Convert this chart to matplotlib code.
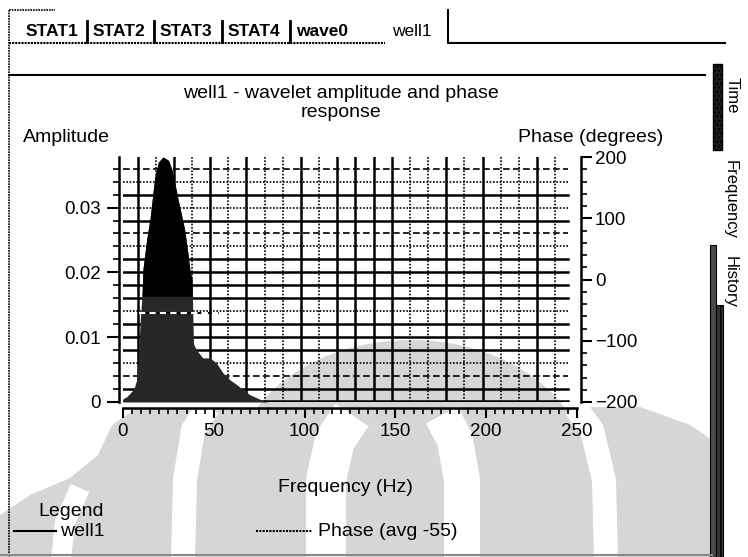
import numpy as np
import matplotlib.pyplot as plt
from matplotlib.patches import Ellipse, Rectangle, Polygon
from matplotlib.ticker import MultipleLocator

plt.rcParams['font.family'] = ['Liberation Sans', 'DejaVu Sans']

# amplitude spectrum of the extracted wavelet (Hz, amplitude)
freq = [0, 2, 4, 6, 7.5, 8.5, 9.5, 10.5, 11, 13, 15, 16, 17.5, 19.5, 22, 25, 27,
        28.5, 30.5, 32.5, 34, 35.5, 37, 38, 38.8, 40.5, 44, 48, 51.5, 55, 59,
        63, 66, 70, 74, 78, 80, 250]
amplitude = [0.0005, 0.0008, 0.0014, 0.0020, 0.0034, 0.0070, 0.0127, 0.0165,
             0.0205, 0.0250, 0.0285, 0.0310, 0.0347, 0.0370, 0.0378, 0.0373,
             0.0358, 0.0338, 0.0310, 0.0285, 0.0265, 0.0234, 0.0200, 0.0190,
             0.0090, 0.0080, 0.0068, 0.0068, 0.0060, 0.0045, 0.0034, 0.0026,
             0.0019, 0.0011, 0.0006, 0.0001, 0.0, 0.0]

# phase inside the wavelet band (degrees)
phase_freq = [9, 20, 30, 40, 53]
phase_deg = [-55, -55, -55, -55, -55]
phase_avg = -55

x_ticks = [0, 50, 100, 150, 200, 250]
amp_ticks = [0, 0.01, 0.02, 0.03]
amp_labels = ['0', '0.01', '0.02', '0.03']
phase_ticks = [-200, -100, 0, 100, 200]
tab_names = ['STAT1', 'STAT2', 'STAT3', 'STAT4', 'wave0', 'well1']

W, H = 748, 557
fig = plt.figure(figsize=(W / 100, H / 100), dpi=100)
fig.patch.set_facecolor('white')

# background layer in pixel units (y grows downwards)
bg = fig.add_axes([0, 0, 1, 1], zorder=0)
bg.set_xlim(0, W)
bg.set_ylim(H, 0)
bg.axis('off')

# faint logo behind the panel
wm = '#d6d6d6'
bg.add_patch(Polygon([(0, 557), (0, 515), (30, 495), (70, 478), (98, 455),
                      (112, 425), (135, 409), (640, 407), (690, 425),
                      (712, 440), (712, 557)], closed=True, fc=wm, ec='none'))
bg.add_patch(Ellipse((411, 470), 350, 260, fc=wm, ec='none'))
for pts, w in [([(183, 560), (185, 480), (193, 430), (208, 407)], 24),
               ([(606, 560), (604, 480), (592, 430), (575, 407)], 24),
               ([(326, 560), (326, 480), (335, 440), (352, 415)], 40),
               ([(462, 560), (462, 480), (455, 440), (442, 415)], 36),
               ([(61, 560), (65, 522), (80, 488)], 20)]:
    xs, ys = zip(*pts)
    bg.plot(xs, ys, color='white', lw=w * 0.72, solid_capstyle='butt')

# frame and tab strip
bg.plot([9, 9], [10, 557], color='black', lw=1.2, ls=(0, (1, 0.6)))
bg.plot([9, 55], [10, 10], color='black', lw=1.2, ls=(0, (1, 0.6)))
bg.plot([9, 385], [43, 43], color='black', lw=1.5, ls=(0, (1, 0.5)))
bg.plot([448, 448, 725], [10, 43, 43], color='black', lw=1.5)
bg.plot([9, 705], [75, 75], color='black', lw=1.5)
bg.plot([0, 712], [555, 555], color='#888888', lw=1.5)
tab_x = [26, 93, 160, 228, 296, 392]
sep_x = [87, 154, 222, 290]
for name, x in zip(tab_names, tab_x):
    bg.text(x, 31, name, fontsize=12.5, fontweight='bold' if name != 'well1' else 'normal',
            ha='left', va='center')
for x in sep_x:
    bg.plot([x, x], [21, 42], color='black', lw=2)

# side tabs on the right
bg.add_patch(Rectangle((713, 64), 9, 86, fc='#1a1a1a', ec='black', hatch='....'))
bg.add_patch(Rectangle((710, 245), 6, 312, fc='#4a4a4a', ec='black', lw=0.8))
bg.add_patch(Rectangle((716, 305), 7, 252, fc='#333333', ec='black', lw=0.8, hatch='||'))
bg.text(732, 95, 'Time', rotation=270, fontsize=12, ha='center', va='center')
bg.text(730, 200, 'Frequency', rotation=270, fontsize=12, ha='center', va='center')
bg.text(730, 282, 'History', rotation=270, fontsize=12, ha='center', va='center')

# titles and axis captions
fs = 14
bg.text(341, 103, 'well1 - wavelet amplitude and phase\nresponse', fontsize=fs,
        ha='center', va='center', linespacing=1.2)
bg.text(23, 138, 'Amplitude', fontsize=fs, ha='left', va='center')
bg.text(663, 138, 'Phase (degrees)', fontsize=fs, ha='right', va='center')
bg.text(345, 487, 'Frequency (Hz)', fontsize=fs, ha='center', va='center')

# legend
bg.text(38, 511, 'Legend', fontsize=fs, ha='left', va='center')
bg.plot([14, 56], [531, 531], color='black', lw=1.5)
bg.text(60, 531, 'well1', fontsize=fs, ha='left', va='center')
bg.plot([256, 312], [531, 531], color='black', lw=1.5, ls=(0, (1, 0.6)))
bg.text(318, 531, 'Phase (avg %d)' % phase_avg, fontsize=fs, ha='left', va='center')

# amplitude / phase plot
ax = fig.add_axes([123 / W, 1 - 402 / H, (577 - 123) / W, (402 - 157) / H], zorder=1)
ax.patch.set_visible(False)
ax.set_xlim(0, 250)
ax.set_ylim(0, 0.0378)

# dense grid: vertical every 10 Hz, horizontal at the amplitude minor ticks
v_solid = [1, 0, 1, 0, 1, 0, 1, 0, 0, 1, 0, 1, 1, 1, 1, 0, 0, 1, 0, 1, 0, 0, 1, 0]
for f, s in zip(np.arange(8, 240, 10), v_solid):
    if s:
        ax.axvline(f, color='black', lw=1.8, zorder=1)
    else:
        ax.axvline(f, color='black', lw=1.2, ls=(0, (1, 1)), zorder=1)
h_style = ['-', '--', ':', '-', '-', '-', ':', '-', '-', '-', '-', ':', '--', '-',
           ':', '-', ':', '--']
for k, s in enumerate(h_style, start=1):
    if s == '-':
        ax.axhline(0.002 * k, xmax=0.98, color='black', lw=1.8, zorder=1)
    elif s == '--':
        ax.axhline(0.002 * k, xmax=0.98, color='black', lw=1.2, ls=(0, (4, 2)), zorder=1)
    else:
        ax.axhline(0.002 * k, xmax=0.98, color='black', lw=1.2, ls=(0, (1, 1)), zorder=1)
ax.axhline(0.0002, xmax=0.98, color='black', lw=1.8, zorder=1)

amp = np.array(amplitude)
ax.fill_between(freq, 0, amp, color='#272727', lw=0, zorder=3)
ax.fill_between(freq, 0.0163, amp, where=amp > 0.0163, interpolate=True,
                color='black', lw=0, zorder=3)

ax.set_xticks(x_ticks)
ax.set_yticks(amp_ticks)
ax.set_yticklabels(amp_labels)
ax.xaxis.set_minor_locator(MultipleLocator(5))
ax.yaxis.set_minor_locator(MultipleLocator(0.002))
ax.tick_params(which='major', length=9, width=1.5, labelsize=13.5, pad=4)
ax.tick_params(which='minor', length=4, width=1.2)
ax.tick_params(axis='x', which='major', length=7)
for side in ['top', 'right']:
    ax.spines[side].set_visible(False)
ax.spines['left'].set_position(('outward', 3))
ax.spines['bottom'].set_position(('outward', 4))
for side in ['left', 'bottom']:
    ax.spines[side].set_linewidth(1.8)

ax2 = ax.twinx()
ax2.patch.set_visible(False)
ax2.set_ylim(-200, 200)
ax2.set_yticks(phase_ticks)
ax2.yaxis.set_minor_locator(MultipleLocator(20))
ax2.tick_params(which='major', length=8, width=1.5, labelsize=13.5, pad=2)
ax2.tick_params(which='minor', length=4, width=1.2)
for side in ['top', 'left', 'bottom']:
    ax2.spines[side].set_visible(False)
ax2.spines['right'].set_position(('outward', 3))
ax2.spines['right'].set_linewidth(1.8)
ax2.plot(phase_freq, phase_deg, color='white', gapcolor='black', lw=1.5,
         ls=(0, (3, 2)), zorder=4)

fig.savefig('out.png', dpi=100)
